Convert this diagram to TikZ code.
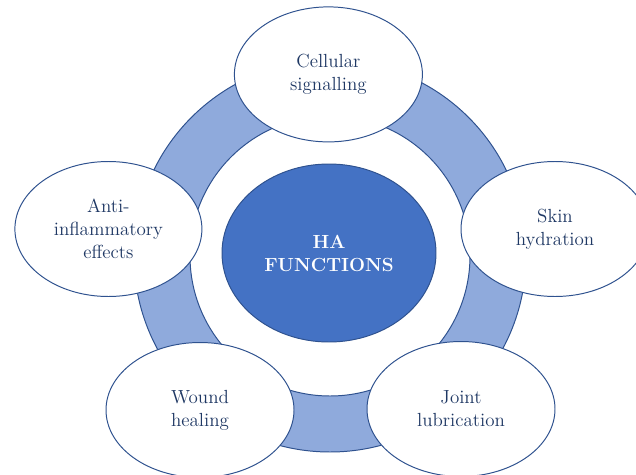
\documentclass[tikz,border=0pt]{standalone}
\usepackage{tikz}
\usetikzlibrary{shapes}

\definecolor{haDark}{HTML}{4472C4}
\definecolor{haRing}{HTML}{8FAADC}
\definecolor{haLine}{HTML}{2F528F}
\definecolor{haText}{HTML}{1F3864}

\begin{document}
\begin{tikzpicture}[
    funcNode/.style={ellipse, draw=haLine, line width=0.7pt, fill=white, minimum width=4.7cm, minimum height=3.375cm,
      text=haText, align=center, font=\fontsize{13.5}{16.4}\selectfont}]
  % \draw[step=1.0,thin,gray!40] (0,0) grid (16,12);
  \useasboundingbox (0,0) rectangle (15.9,11.85);

  \draw[fill=haRing, draw=haLine, line width=0.7pt, even odd rule] (8.25,5.45) circle [radius=4.9] (8.25,5.45) circle [radius=3.5];

  \node[ellipse, draw=haLine, line width=0.7pt, fill=haDark, minimum width=5.35cm, minimum height=4.45cm, text=white, align=center,
    font=\fontsize{13.5}{16.4}\selectfont\bfseries] (haNode) at (8.225,5.525) {HA\\FUNCTIONS};

  \node[funcNode] (cellNode) at (8.21,9.99) {Cellular\\signalling};
  \node[funcNode] (skinNode) at (13.875,6.125) {Skin\\hydration};
  \node[funcNode] (jointNode) at (11.525,1.625) {Joint\\lubrication};
  \node[funcNode] (woundNode) at (5.0,1.6) {Wound\\healing};
  \node[funcNode, minimum width=4.675cm] (antiNode) at (2.71,6.125) {Anti-\\inflammatory\\effects};

\end{tikzpicture}
\end{document}
